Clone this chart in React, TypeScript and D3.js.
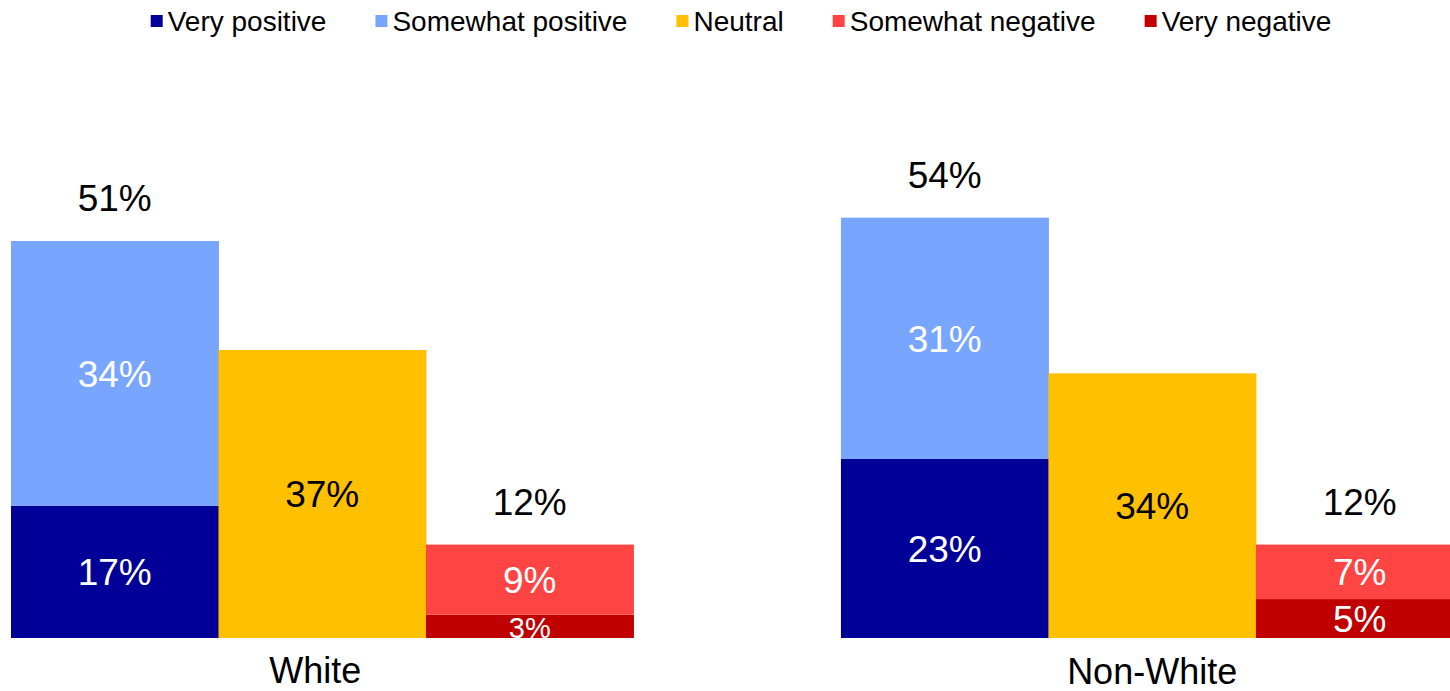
import React from 'react';
import * as d3 from 'd3';

const width = 1450;
const height = 691;

const groups = ['White', 'Non-White'];
const series = ['Very positive', 'Somewhat positive', 'Neutral', 'Somewhat negative', 'Very negative'];
const colors = ['#000099', '#78A6FF', '#FFC000', '#FF4444', '#C00000'];

// values in %
const veryPositive = [17, 23];
const somewhatPositive = [34, 31];
const neutral = [37, 34];
const somewhatNegative = [9, 7];
const veryNegative = [3, 5];
const positiveTotal = [51, 54];
const negativeTotal = [12, 12];

const bars = ['Positive', 'Neutral', 'Negative'];

const font = '"Liberation Sans", Arial, sans-serif';

const measure = (text: string, size: number) => {
  const ctx = document.createElement('canvas').getContext('2d');
  if (!ctx) return text.length * size * 0.5;
  ctx.font = `${size}px ${font}`;
  return ctx.measureText(text).width;
};

export default function App() {
  const baseline = 638;

  const x0 = d3.scaleBand().domain(groups).range([11, 1463.4]).paddingInner(0.25).paddingOuter(0);
  const x1 = d3.scaleBand().domain(bars).range([0, x0.bandwidth()]);
  const y = d3.scaleLinear().domain([0, 51]).range([baseline, 241]);

  // stacked segments per group
  const segments: any[] = [];
  const totals: any[] = [];
  groups.forEach((g, gi) => {
    const stacks = [
      { bar: 'Positive', parts: [[0, veryPositive[gi]], [1, somewhatPositive[gi]]], total: positiveTotal[gi] },
      { bar: 'Neutral', parts: [[2, neutral[gi]]], total: null },
      { bar: 'Negative', parts: [[4, veryNegative[gi]], [3, somewhatNegative[gi]]], total: negativeTotal[gi] },
    ];
    stacks.forEach(s => {
      let acc = 0;
      s.parts.forEach(([si, v]) => {
        segments.push({ g, bar: s.bar, si, v, y0: acc, y1: acc + v });
        acc += v;
      });
      if (s.total != null) totals.push({ g, bar: s.bar, v: s.total, top: acc });
    });
  });

  // legend layout
  const legendSize = 28;
  const sq = 12;
  const items = series.map(s => measure(s, legendSize));
  const itemW = items.map(w => sq + 5 + w);
  const gap = 49;
  const totalW = d3.sum(itemW) + gap * (series.length - 1);
  let lx = 741 - totalW / 2;
  const legendX = itemW.map(w => {
    const cur = lx;
    lx += w + gap;
    return cur;
  });

  return (
    <svg width={width} height={height} style={{ position: 'absolute', left: 0, top: 0, background: '#fff' }} fontFamily={font}>
      <defs>
        <clipPath id="plot">
          <rect x={0} y={0} width={width} height={baseline} />
        </clipPath>
      </defs>
      <g clipPath="url(#plot)">
        {segments.map((d, i) => {
          const x = (x0(d.g) as number) + (x1(d.bar) as number);
          const yTop = y(d.y1);
          const yBot = y(d.y0);
          const h = yBot - yTop;
          const size = h < 30 ? 29 : 37;
          return (
            <g key={i}>
              <rect x={x} y={yTop} width={x1.bandwidth() + 0.5} height={h} fill={colors[d.si]} />
              <text
                x={x + x1.bandwidth() / 2}
                y={(yTop + yBot) / 2 + (h < 30 ? 2 : 1)}
                textAnchor="middle"
                dominantBaseline="central"
                fontSize={size}
                fill={d.si === 2 ? '#000' : '#fff'}
              >
                {d.v}%
              </text>
            </g>
          );
        })}
      </g>
      {totals.map((d, i) => (
        <text
          key={i}
          x={(x0(d.g) as number) + (x1(d.bar) as number) + x1.bandwidth() / 2}
          y={y(d.top) - 30}
          textAnchor="middle"
          fontSize={37}
          fill="#000"
        >
          {d.v}%
        </text>
      ))}
      {groups.map((g, i) => (
        <text
          key={g}
          x={(x0(g) as number) + x0.bandwidth() / 2 - (i === 0 ? 7 : 0)}
          y={i === 0 ? 683 : 684}
          textAnchor="middle"
          fontSize={36}
          fill="#000"
        >
          {g}
        </text>
      ))}
      {series.map((s, i) => (
        <g key={s} transform={`translate(${legendX[i]},0)`}>
          <rect x={0} y={15} width={sq} height={sq} fill={colors[i]} />
          <text x={sq + 5} y={21} dominantBaseline="central" fontSize={legendSize} fill="#000">
            {s}
          </text>
        </g>
      ))}
    </svg>
  );
}
